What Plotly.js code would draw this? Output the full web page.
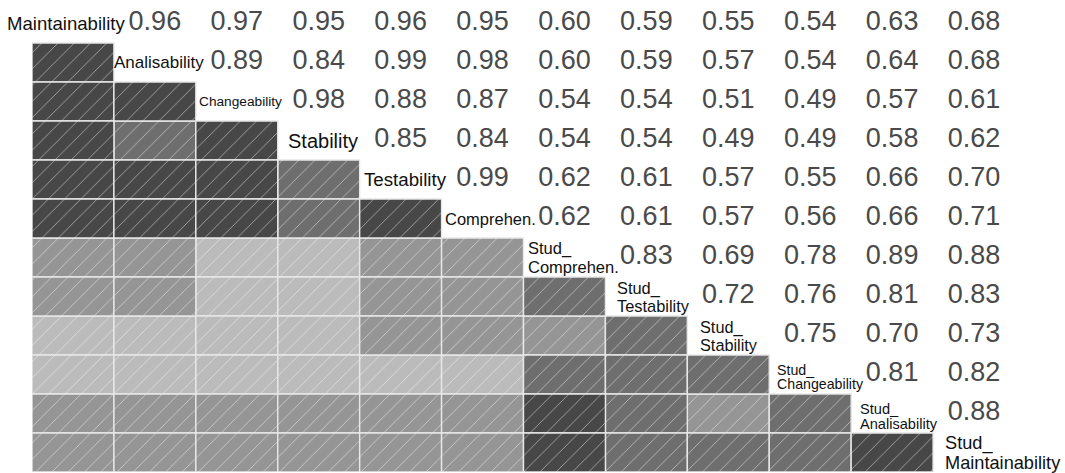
<!DOCTYPE html>
<html>
<head>
<meta charset="utf-8">
<script src="https://cdn.plot.ly/plotly-3.0.1.min.js"></script>
<style>
html,body{margin:0;padding:0;background:#fff;}
#chart{width:1065px;height:473px;}
</style>
</head>
<body>
<div id="chart"></div>
<script>
// ---- data ----
const labels = ["Maintainability","Analisability","Changeability","Stability","Testability","Comprehen.",
  "Stud_Comprehen.","Stud_Testability","Stud_Stability","Stud_Changeability","Stud_Analisability","Stud_Maintainability"];

// upper-triangle correlations, row i holds columns i+1 .. 11
const rowMaintainability      = [0.96,0.97,0.95,0.96,0.95,0.60,0.59,0.55,0.54,0.63,0.68];
const rowAnalisability        = [0.89,0.84,0.99,0.98,0.60,0.59,0.566,0.54,0.64,0.68];
const rowChangeability        = [0.98,0.88,0.87,0.54,0.54,0.51,0.49,0.57,0.61];
const rowStability            = [0.85,0.84,0.54,0.54,0.49,0.49,0.58,0.62];
const rowTestability          = [0.99,0.62,0.61,0.57,0.55,0.66,0.70];
const rowComprehen            = [0.62,0.61,0.57,0.56,0.66,0.71];
const rowStudComprehen        = [0.83,0.69,0.78,0.89,0.88];
const rowStudTestability      = [0.72,0.76,0.81,0.83];
const rowStudStability        = [0.75,0.70,0.73];
const rowStudChangeability    = [0.81,0.82];
const rowStudAnalisability    = [0.88];

// shade bins (lower bound of each class)
const binEdges = [0.57, 0.715, 0.86];

// ---- styles ----
const shadeColors = ["#bbbbbb","#959595","#6e6e6e","#474747"];
const FONT = "Liberation Sans, Arial, sans-serif";

const upperRows = [rowMaintainability,rowAnalisability,rowChangeability,rowStability,rowTestability,
  rowComprehen,rowStudComprehen,rowStudTestability,rowStudStability,rowStudChangeability,rowStudAnalisability];
const n = labels.length;
function corr(i,j){ // symmetric lookup
  if (i===j) return 1;
  const a=Math.min(i,j), b=Math.max(i,j);
  return upperRows[a][b-a-1];
}
function bin(v){ let k=0; binEdges.forEach(e=>{ if (v>=e-1e-9) k++; }); return k; }

const traces = [];
// lower triangle: hatched grey cells
for (let k=0;k<shadeColors.length;k++){
  const xs=[], bs=[], ys=[];
  for (let i=1;i<n;i++) for (let j=0;j<i;j++){
    if (bin(corr(i,j))===k){ xs.push(j); bs.push(i-0.5); ys.push(1); }
  }
  traces.push({
    type:"bar", x:xs, y:ys, base:bs, width:1, hoverinfo:"skip",
    marker:{color:shadeColors[k], line:{color:"#e8e8e8", width:1.4},
      pattern:{shape:"/", fillmode:"overlay", fgcolor:"#ffffff", fgopacity:0.5, size:11.5, solidity:0.08}}
  });
}
// upper triangle: numbers
const tx=[], ty=[], tt=[];
for (let i=0;i<n;i++) for (let j=i+1;j<n;j++){ tx.push(j); ty.push(i); tt.push(corr(i,j).toFixed(2)); }
traces.push({type:"scatter", mode:"text", x:tx, y:ty, text:tt, textposition:"middle center",
  cliponaxis:false, hoverinfo:"skip", textfont:{family:FONT, size:27, color:"#4a4a4a"}});

// diagonal labels
const labelSize   = [18.6,17,13.7,20,18.7,16.5,16.5,16.4,16.3,14.2,14.6,18.2];
const labelShiftX = [-6,4.3,3.7,3.8,4.4,8,   3,10.5,12,7,7.5,11];
const line1Shift  = [0,0,0,0,0,0, 9,8.5,8,5,4.5,9];
const line2Shift  = [0,0,0,0,0,0,-9,-9.5,-9,-9,-10,-10.5];
const annotations=[];
labels.forEach((lab,i)=>{
  if (lab.startsWith("Stud_")){
    const parts=["Stud_", lab.slice(5)];
    parts.forEach((p,li)=>{
      annotations.push({x:i-0.5, y:i, xref:"x", yref:"y", text:p, showarrow:false,
        xanchor:"left", yanchor:"middle", xshift:labelShiftX[i], yshift: li===0?line1Shift[i]:line2Shift[i],
        borderpad:0, font:{family:FONT, size:labelSize[i], color:"#111111"}});
    });
  } else {
    annotations.push({x:i, y:i, xref:"x", yref:"y", text:lab, showarrow:false,
      xanchor:"center", yanchor:"middle", xshift:labelShiftX[i],
      font:{family:FONT, size:labelSize[i], color:"#111111"}});
  }
});

const layout = {
  width:1065, height:473,
  margin:{l:32, r:50, t:4, b:1, pad:0},
  paper_bgcolor:"#ffffff", plot_bgcolor:"#ffffff",
  showlegend:false, barmode:"overlay",
  xaxis:{range:[-0.5,n-0.5], visible:false, fixedrange:true},
  yaxis:{range:[n-0.5,-0.5], visible:false, fixedrange:true},
  annotations:annotations
};
Plotly.newPlot("chart", traces, layout, {displayModeBar:false, staticPlot:true});
</script>
</body>
</html>
